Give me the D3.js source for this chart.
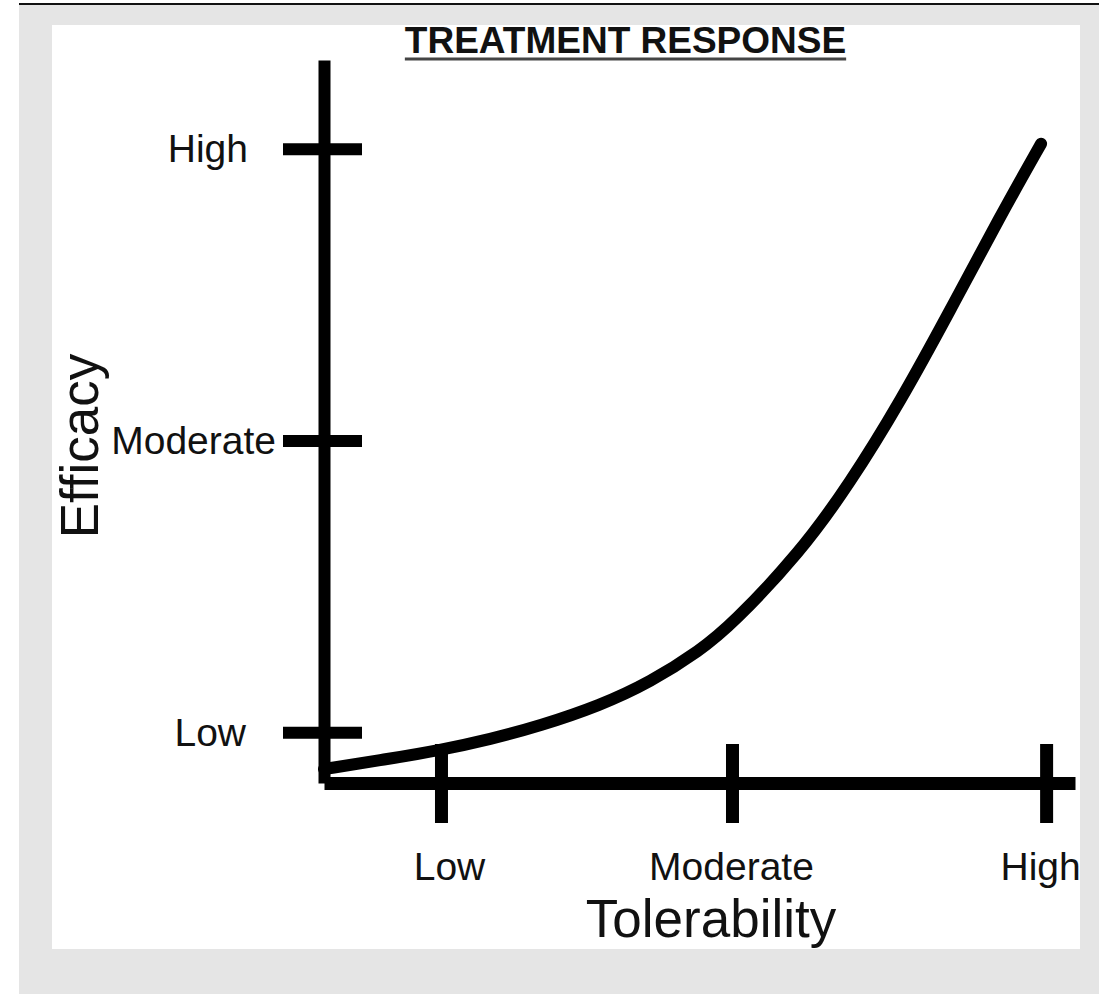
<!DOCTYPE html>
<html>
<head>
<meta charset="utf-8">
<script src="https://cdn.jsdelivr.net/npm/d3@7"></script>
<style>
  html, body { margin: 0; padding: 0; background: #ffffff; }
  svg { display: block; }
  text { font-family: "Liberation Sans", Arial, Helvetica, sans-serif; fill: #111; }
</style>
</head>
<body>
<svg id="chart" width="1099" height="994"></svg>
<script>
// Chart text
const chartTitle = "TREATMENT RESPONSE";
const xTitle = "Tolerability";
const yTitle = "Efficacy";

// Axis tick positions (score units) and their labels
const xTickValues = [16.2, 56.5, 100];
const xTickLabels = ["Low", "Moderate", "High"];
const yTickValues = [8, 54, 100];
const yTickLabels = ["Low", "Moderate", "High"];

// Treatment response curve: tolerability score vs efficacy score
const tolerability = [0, 8.4, 16.2, 23.0, 29.9, 38.2, 45.2, 52.1, 56.5, 65.9, 72.8, 79.8, 86.7, 93.6, 99.3];
const efficacy     = [2.2, 3.7, 5.2, 6.9, 9.0, 12.2, 15.9, 20.9, 25.0, 36.3, 47.2, 60.1, 74.5, 89.3, 100.8];

const svg = d3.select("#chart");

// Page frame: rule, grey mat and white panel
svg.append("rect").attr("x", 19).attr("y", 5).attr("width", 1080).attr("height", 989).attr("fill", "#e5e5e5");
svg.append("rect").attr("x", 19).attr("y", 3).attr("width", 1080).attr("height", 2).attr("fill", "#111");
svg.append("rect").attr("x", 52).attr("y", 25).attr("width", 1028).attr("height", 924).attr("fill", "#ffffff");

// Scales
const x = d3.scaleLinear().domain([0, 104]).range([324, 1075]);
const y = d3.scaleLinear().domain([0, 114]).range([783, 60]);

const tickFont = "39px";
const xLabelShift = { "Low": 8, "Moderate": -1, "High": -6 };
const yLabelEnd = { "Low": -78, "Moderate": -48, "High": -76 };

// Y axis
const yAxis = svg.append("g")
  .attr("transform", `translate(${x(0)},0)`)
  .call(d3.axisLeft(y)
    .tickValues(yTickValues)
    .tickFormat((d, i) => yTickLabels[i])
    .tickSizeInner(0)
    .tickSizeOuter(0));
yAxis.select(".domain").attr("stroke", "#000").attr("stroke-width", 12);
yAxis.selectAll(".tick line")
  .attr("x1", -41).attr("x2", 38)
  .attr("stroke", "#000").attr("stroke-width", 12);
yAxis.selectAll(".tick text")
  .attr("x", (d, i) => yLabelEnd[yTickLabels[i]])
  .attr("dy", "0.33em")
  .attr("text-anchor", "end")
  .style("font-size", tickFont)
  .attr("fill", "#111")
  .attr("font-family", null);

// X axis
const xAxis = svg.append("g")
  .attr("transform", `translate(0,${y(0)})`)
  .call(d3.axisBottom(x)
    .tickValues(xTickValues)
    .tickFormat((d, i) => xTickLabels[i])
    .tickSizeInner(0)
    .tickSizeOuter(0));
xAxis.select(".domain").attr("stroke", "#000").attr("stroke-width", 13);
xAxis.selectAll(".tick line")
  .attr("y1", -39).attr("y2", 40)
  .attr("stroke", "#000").attr("stroke-width", 13);
xAxis.selectAll(".tick text")
  .attr("x", (d, i) => xLabelShift[xTickLabels[i]])
  .attr("y", 97)
  .attr("dy", 0)
  .attr("text-anchor", "middle")
  .style("font-size", tickFont)
  .attr("fill", "#111")
  .attr("font-family", null);

// Response curve
const pts = tolerability.map((t, i) => [t, efficacy[i]]);
svg.append("path")
  .datum(pts)
  .attr("fill", "none")
  .attr("stroke", "#000")
  .attr("stroke-width", 12)
  .attr("stroke-linecap", "round")
  .attr("stroke-linejoin", "round")
  .attr("d", d3.line().x(d => x(d[0])).y(d => y(d[1])).curve(d3.curveBasis));

// Title with underline
const title = svg.append("text")
  .attr("x", 625.5).attr("y", 53)
  .attr("text-anchor", "middle")
  .style("font-size", "37px")
  .style("font-weight", "bold")
  .text(chartTitle);
const tb = title.node().getBBox();
svg.append("line")
  .attr("x1", tb.x).attr("x2", tb.x + tb.width)
  .attr("y1", 59).attr("y2", 59)
  .attr("stroke", "#444").attr("stroke-width", 3);

// Axis titles
svg.append("text")
  .attr("x", 711).attr("y", 937)
  .attr("text-anchor", "middle")
  .style("font-size", "53px")
  .text(xTitle);
svg.append("text")
  .attr("transform", "translate(98,446) rotate(-90)")
  .attr("text-anchor", "middle")
  .style("font-size", "53px")
  .text(yTitle);
</script>
</body>
</html>
